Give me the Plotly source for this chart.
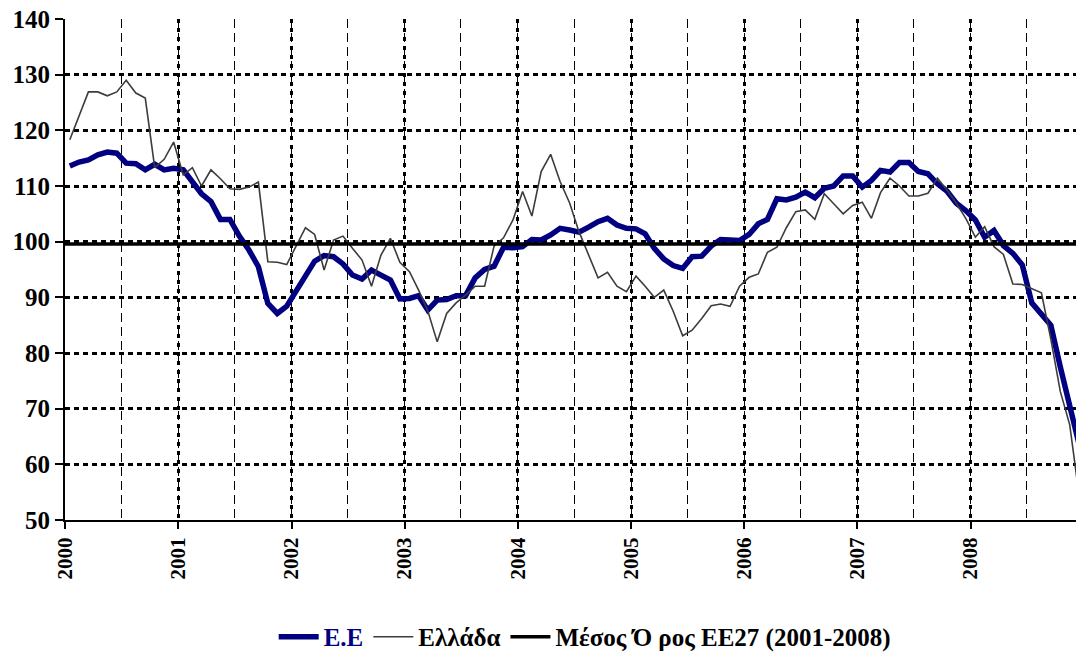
import plotly.graph_objects as go
import pandas as pd

# ---------------- data ----------------
months = pd.date_range("2000-01-01", periods=108, freq="MS")
years = ["2000", "2001", "2002", "2003", "2004", "2005", "2006", "2007", "2008"]

eu = [
    113.6, 114.3, 114.7, 115.6, 116.1, 115.9, 114.1, 114.0, 112.9, 113.9, 112.9, 113.2,   # 2000
    112.9, 110.8, 108.6, 107.2, 104.0, 104.0, 101.0, 98.5, 95.5, 88.9, 87.1, 88.4,        # 2001
    91.2, 93.5, 96.5, 97.5, 97.3, 96.0, 94.0, 93.3, 94.9, 94.0, 93.1, 89.7,               # 2002
    89.8, 90.3, 87.7, 89.5, 89.6, 90.3, 90.3, 93.5, 95.0, 95.6, 99.0, 98.9,               # 2003
    99.1, 100.4, 100.3, 101.2, 102.4, 102.1, 101.7, 102.6, 103.6, 104.2, 103.0, 102.4,    # 2004
    102.3, 101.4, 98.8, 96.9, 95.7, 95.2, 97.3, 97.4, 99.2, 100.4, 100.3, 100.2,          # 2005
    101.3, 103.2, 104.0, 107.7, 107.5, 108.0, 108.9, 107.9, 109.6, 110.0, 111.8, 111.8,   # 2006
    109.8, 111.0, 112.8, 112.5, 114.2, 114.2, 112.6, 112.2, 110.4, 109.1, 106.9, 105.6,   # 2007
    103.9, 100.8, 102.0, 99.3, 97.9, 95.8, 89.0, 87.0, 85.0, 77.5, 70.5, 63.5,            # 2008
]

greece = [
    118.3, 122.6, 126.9, 126.9, 126.2, 126.9, 129.0, 126.7, 125.8, 113.3, 114.8, 117.9,   # 2000
    112.0, 113.3, 110.0, 112.9, 111.3, 109.5, 109.4, 109.8, 110.7, 96.4, 96.3, 95.9,      # 2001
    99.3, 102.5, 101.3, 94.9, 100.3, 101.0, 98.8, 96.7, 92.0, 97.6, 100.6, 96.3,          # 2002
    94.6, 91.3, 87.6, 82.0, 87.1, 89.0, 90.4, 92.0, 92.0, 99.2, 100.7, 103.9,             # 2003
    109.0, 104.6, 112.6, 115.7, 110.8, 107.0, 101.8, 97.6, 93.5, 94.5, 92.0, 91.0,        # 2004
    93.8, 92.0, 90.0, 91.3, 87.5, 83.1, 84.1, 86.2, 88.5, 88.8, 88.4, 92.0,               # 2005
    93.6, 94.2, 98.1, 99.0, 102.5, 105.4, 105.7, 104.0, 108.6, 106.8, 105.0, 106.5,       # 2006
    107.1, 104.2, 108.8, 111.4, 110.0, 108.2, 108.2, 108.7, 111.4, 109.3, 106.9, 104.2,   # 2007
    100.8, 102.7, 99.1, 97.7, 92.4, 92.3, 91.5, 90.8, 82.5, 73.1, 67.1, 54.3,             # 2008
]

eu27_mean = 99.6
period = ["2000-01-01", "2009-01-01"]

series_names = [
    "<span style='color:#000080'>E.E</span>",
    "Ελλάδα",
    "Μέσος Ό ρος ΕΕ27 (2001-2008)",
]

# ---------------- figure ----------------
fig = go.Figure()

fig.add_trace(go.Scatter(
    x=months, y=eu, name=series_names[0], mode="lines",
    xperiod="M1", xperiodalignment="middle",
    line=dict(color="#000080", width=5.5),
))
fig.add_trace(go.Scatter(
    x=months, y=greece, name=series_names[1], mode="lines",
    xperiod="M1", xperiodalignment="middle",
    line=dict(color="#3c3c3c", width=1.6),
))
fig.add_trace(go.Scatter(
    x=period, y=[eu27_mean, eu27_mean], name=series_names[2], mode="lines",
    line=dict(color="#000000", width=3.5),
))

# page body keeps its default 8px margin, so the figure is 8px smaller
fig.update_layout(
    width=1076, height=644,
    margin=dict(l=57, r=0, t=11, b=132, autoexpand=False),
    paper_bgcolor="white", plot_bgcolor="white",
    showlegend=True,
    legend=dict(
        orientation="h", x=0.51, xanchor="center", y=-0.2335, yanchor="middle",
        font=dict(family="Liberation Serif", size=25, color="black", weight="bold"),
        itemwidth=40, tracegroupgap=0,
    ),
)

fig.update_xaxes(
    type="date", range=period, automargin=False, ticklabeloverflow="allow",
    tickmode="array", tickvals=[y + "-01-01" for y in years], ticktext=years,
    tickangle=-90,
    tickfont=dict(family="Liberation Serif", size=21, color="black", weight="bold"),
    ticks="outside", ticklen=7, tickwidth=1.5, tickcolor="black",
    showline=True, linecolor="black", linewidth=2,
    showgrid=True, gridcolor="black", gridwidth=3, griddash="4px,5px",
    minor=dict(dtick="M6", tick0="2000-01-01", showgrid=True,
               gridcolor="black", gridwidth=1, griddash="9px,5px", ticks=""),
    zeroline=False,
)

fig.update_yaxes(
    range=[50, 140], tickmode="linear", tick0=50, dtick=10, automargin=False,
    ticklabeloverflow="allow",
    tickfont=dict(family="Liberation Serif", size=25, color="black", weight="bold"),
    ticks="outside", ticklen=8, tickwidth=1.5, tickcolor="black",
    showline=True, linecolor="black", linewidth=2,
    showgrid=True, gridcolor="black", gridwidth=2.5, griddash="5px,4px",
    zeroline=False,
)

fig.write_html("out.html")
